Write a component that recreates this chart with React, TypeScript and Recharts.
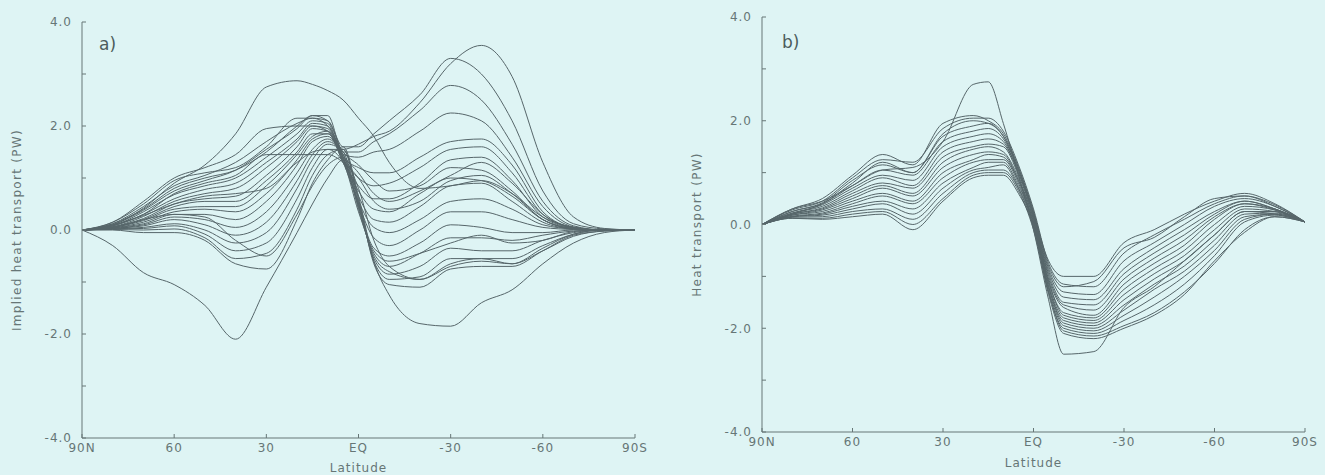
import { LineChart, Line, XAxis, YAxis } from "recharts";

// latitude grid (degrees, north positive)
const lats = [90, 80, 70, 60, 50, 40, 30, 20, 15, 10, 5, 0, -5, -10, -20, -30, -40, -50, -60, -70, -80, -90];

const xTicks = [90, 60, 30, 0, -30, -60, -90];
const xTickLabels = ["90N", "60", "30", "EQ", "-30", "-60", "90S"];
const yTicks = [-4, -3, -2, -1, 0, 1, 2, 3, 4];
const yTickLabels = ["-4.0", "", "-2.0", "", "0.0", "", "2.0", "", "4.0"];

// panel a) implied heat transport, one array per model
const a01 = [0, 0.1, 0.42, 0.9, 1.25, 1.85, 2.75, 2.87, 2.8, 2.68, 2.5, 2.15, 1.8, 1.3, 0.8, 0.85, 0.95, 0.7, 0.25, 0.05, 0, 0];
const a02 = [0, -0.3, -0.82, -1.05, -1.45, -2.1, -1.1, -0.05, 0.5, 1.0, 1.35, 0.8, -0.2, -0.7, -0.95, -0.7, -0.6, -0.65, -0.4, -0.12, -0.02, 0];
const a03 = [0, 0.15, 0.55, 1.0, 1.2, 1.45, 1.95, 2.0, 2.0, 1.9, 1.55, 1.65, 1.8, 1.9, 2.45, 3.2, 3.55, 2.95, 1.3, 0.25, 0.03, 0];
const a04 = [0, 0.12, 0.45, 0.85, 1.05, 1.3, 1.7, 2.05, 2.15, 2.1, 1.6, 1.6, 1.85, 2.1, 2.6, 3.3, 3.0, 2.1, 0.75, 0.12, 0.02, 0];
const a05 = [0, 0.1, 0.38, 0.75, 0.95, 1.15, 1.55, 1.95, 2.2, 2.2, 1.5, 1.5, 1.7, 1.85, 2.3, 2.78, 2.5, 1.65, 0.55, 0.08, 0, 0];
const a06 = [0, 0.08, 0.35, 0.68, 0.85, 1.0, 1.4, 1.85, 2.1, 2.05, 1.45, 1.4, 1.5, 1.55, 1.9, 2.25, 2.1, 1.4, 0.45, 0.06, 0, 0];
const a07 = [0, 0.08, 0.3, 0.6, 0.78, 0.9, 1.3, 1.75, 2.05, 2.0, 1.4, 1.2, 1.1, 1.1, 1.4, 1.7, 1.75, 1.25, 0.35, 0.05, 0, 0];
const a08 = [0, 0.06, 0.26, 0.55, 0.7, 0.8, 1.2, 1.7, 2.0, 1.95, 1.35, 1.0, 0.85, 0.9, 1.2, 1.55, 1.6, 1.1, 0.3, 0.05, 0, 0];
const a09 = [0, 0.06, 0.22, 0.5, 0.6, 0.65, 1.05, 1.6, 1.95, 1.9, 1.3, 0.85, 0.6, 0.6, 0.9, 1.35, 1.4, 0.95, 0.25, 0.04, 0, 0];
const a10 = [0, 0.05, 0.2, 0.45, 0.55, 0.55, 0.95, 1.5, 1.85, 1.85, 1.35, 0.75, 0.4, 0.35, 0.7, 1.0, 0.95, 0.65, 0.2, 0.03, 0, 0];
const a11 = [0, 0.05, 0.18, 0.4, 0.45, 0.45, 0.85, 1.45, 1.8, 1.9, 1.4, 0.65, 0.2, 0.15, 0.45, 0.85, 0.9, 0.55, 0.15, 0.02, 0, 0];
const a12 = [0, 0.04, 0.15, 0.35, 0.4, 0.35, 0.7, 1.35, 1.75, 1.85, 1.3, 0.55, 0.05, -0.05, 0.2, 0.55, 0.6, 0.4, 0.1, 0.02, 0, 0];
const a13 = [0, 0.04, 0.12, 0.3, 0.3, 0.2, 0.55, 1.25, 1.7, 1.8, 1.35, 0.5, -0.15, -0.3, 0.0, 0.35, 0.35, 0.2, 0.05, 0.01, 0, 0];
const a14 = [0, 0.03, 0.1, 0.25, 0.2, 0.05, 0.35, 1.1, 1.55, 1.75, 1.4, 0.45, -0.35, -0.5, -0.25, 0.1, 0.05, -0.05, -0.05, 0, 0, 0];
const a15 = [0, 0.03, 0.08, 0.2, 0.1, -0.1, 0.15, 0.95, 1.45, 1.7, 1.45, 0.4, -0.45, -0.7, -0.45, -0.15, -0.15, -0.2, -0.1, -0.02, 0, 0];
const a16 = [0, 0.02, 0.05, 0.12, 0.0, -0.25, -0.05, 0.8, 1.35, 1.65, 1.5, 0.5, -0.55, -0.85, -0.7, -0.35, -0.4, -0.4, -0.2, -0.05, 0, 0];
const a17 = [0, 0.02, 0.03, 0.08, -0.08, -0.4, -0.25, 0.6, 1.2, 1.55, 1.55, 0.55, -0.6, -0.95, -0.9, -0.55, -0.55, -0.55, -0.3, -0.08, 0, 0];
const a18 = [0, 0.01, 0.0, 0.02, -0.15, -0.55, -0.45, 0.4, 1.05, 1.45, 1.55, 0.6, -0.65, -1.05, -1.1, -0.75, -0.7, -0.7, -0.4, -0.1, -0.02, 0];
const a19 = [0, 0.0, -0.05, -0.05, -0.2, -0.65, -0.75, 0.2, 0.9, 1.35, 1.6, 0.65, -0.6, -1.25, -1.8, -1.85, -1.4, -1.15, -0.65, -0.25, -0.05, 0];
const a20 = [0, 0.15, 0.5, 0.95, 1.1, 1.2, 1.6, 2.15, 2.15, 2.0, 1.5, 1.25, 0.95, 0.75, 0.85, 1.2, 1.15, 0.75, 0.2, 0.03, 0, 0];
const a21 = [0, 0.1, 0.3, 0.7, 0.9, 1.05, 1.45, 1.45, 1.45, 1.45, 1.3, 1.0, 0.55, 0.4, 0.55, 0.95, 1.05, 0.7, 0.2, 0.02, 0, 0];
const a22 = [0, 0.05, 0.2, 0.3, 0.25, -0.2, -0.5, 0.3, 0.85, 1.25, 1.4, 0.45, -0.5, -0.8, -0.95, -0.65, -0.55, -0.65, -0.35, -0.08, 0, 0];
const a23 = [0, 0.08, 0.28, 0.5, 0.65, 0.7, 0.8, 1.3, 1.5, 1.55, 1.3, 0.35, -0.4, -0.6, -0.45, -0.25, -0.1, -0.25, -0.2, -0.03, 0, 0];
const a24 = [0, 0.12, 0.4, 0.8, 1.0, 1.15, 1.5, 2.0, 2.2, 2.1, 1.45, 1.1, 0.7, 0.55, 0.75, 1.05, 1.3, 0.9, 0.3, 0.04, 0, 0];

// panel b) heat transport
const b01 = [0, 0.3, 0.45, 0.75, 1.05, 1.1, 1.6, 2.7, 2.75, 1.95, 0.95, -0.1, -1.45, -2.5, -2.45, -1.6, -1.2, -0.7, -0.2, 0.25, 0.2, 0.05];
const b02 = [0, 0.3, 0.5, 0.95, 1.35, 1.15, 1.95, 2.1, 2.0, 1.75, 1.1, 0.2, -0.7, -1.0, -1.0, -0.35, -0.1, 0.2, 0.45, 0.6, 0.4, 0.05];
const b03 = [0, 0.28, 0.45, 0.9, 1.25, 1.2, 1.85, 2.05, 2.05, 1.8, 1.15, 0.3, -0.75, -1.15, -1.2, -0.55, -0.2, 0.1, 0.4, 0.55, 0.35, 0.05];
const b04 = [0, 0.25, 0.42, 0.85, 1.15, 1.0, 1.7, 1.9, 1.95, 1.7, 1.1, 0.25, -0.85, -1.3, -1.35, -0.7, -0.35, 0.0, 0.35, 0.5, 0.35, 0.05];
const b05 = [0, 0.25, 0.4, 0.75, 1.05, 0.95, 1.6, 1.8, 1.85, 1.65, 1.05, 0.2, -0.9, -1.4, -1.45, -0.85, -0.45, -0.1, 0.25, 0.45, 0.3, 0.05];
const b06 = [0, 0.22, 0.38, 0.7, 0.95, 0.85, 1.5, 1.7, 1.75, 1.6, 1.0, 0.15, -0.95, -1.5, -1.55, -0.95, -0.55, -0.2, 0.2, 0.45, 0.3, 0.05];
const b07 = [0, 0.22, 0.35, 0.65, 0.9, 0.75, 1.4, 1.6, 1.65, 1.55, 1.0, 0.2, -1.0, -1.55, -1.65, -1.05, -0.65, -0.3, 0.15, 0.4, 0.3, 0.05];
const b08 = [0, 0.2, 0.32, 0.6, 0.8, 0.7, 1.3, 1.5, 1.55, 1.5, 0.95, 0.15, -1.05, -1.6, -1.75, -1.15, -0.75, -0.4, 0.1, 0.4, 0.28, 0.05];
const b09 = [0, 0.2, 0.3, 0.55, 0.75, 0.6, 1.2, 1.45, 1.5, 1.4, 0.9, 0.1, -1.1, -1.7, -1.8, -1.25, -0.85, -0.5, 0.0, 0.35, 0.28, 0.05];
const b10 = [0, 0.18, 0.28, 0.5, 0.7, 0.55, 1.1, 1.35, 1.4, 1.35, 0.85, 0.05, -1.1, -1.75, -1.85, -1.35, -0.95, -0.6, -0.1, 0.3, 0.25, 0.05];
const b11 = [0, 0.18, 0.25, 0.45, 0.6, 0.45, 1.0, 1.25, 1.35, 1.3, 0.85, 0.1, -1.15, -1.8, -1.9, -1.45, -1.05, -0.7, -0.2, 0.25, 0.25, 0.05];
const b12 = [0, 0.16, 0.22, 0.4, 0.55, 0.4, 0.9, 1.2, 1.25, 1.25, 0.8, 0.0, -1.2, -1.85, -1.95, -1.55, -1.15, -0.8, -0.3, 0.2, 0.22, 0.05];
const b13 = [0, 0.15, 0.2, 0.35, 0.45, 0.3, 0.8, 1.1, 1.2, 1.2, 0.75, 0.05, -1.2, -1.9, -2.0, -1.65, -1.25, -0.9, -0.4, 0.15, 0.2, 0.05];
const b14 = [0, 0.15, 0.18, 0.3, 0.4, 0.2, 0.7, 1.05, 1.1, 1.15, 0.7, -0.05, -1.25, -1.95, -2.05, -1.75, -1.4, -1.0, -0.5, 0.1, 0.2, 0.05];
const b15 = [0, 0.14, 0.15, 0.25, 0.3, 0.1, 0.6, 1.0, 1.05, 1.05, 0.7, 0.0, -1.3, -2.0, -2.1, -1.85, -1.55, -1.15, -0.6, 0.05, 0.18, 0.05];
const b16 = [0, 0.12, 0.12, 0.2, 0.25, 0.0, 0.5, 0.95, 1.0, 1.0, 0.65, -0.1, -1.3, -2.05, -2.15, -1.95, -1.7, -1.3, -0.75, -0.1, 0.15, 0.05];
const b17 = [0, 0.12, 0.1, 0.15, 0.2, -0.1, 0.45, 0.9, 0.95, 0.95, 0.6, -0.05, -1.35, -2.1, -2.2, -2.0, -1.75, -1.35, -0.7, -0.15, 0.15, 0.05];
const b18 = [0, 0.2, 0.4, 0.8, 1.2, 1.0, 1.75, 2.0, 1.95, 1.7, 1.05, 0.25, -0.8, -1.2, -1.1, -0.45, -0.25, 0.15, 0.5, 0.55, 0.38, 0.05];

const seriesA = [a01, a02, a03, a04, a05, a06, a07, a08, a09, a10, a11, a12, a13, a14, a15, a16, a17, a18, a19, a20, a21, a22, a23, a24];
const seriesB = [b01, b02, b03, b04, b05, b06, b07, b08, b09, b10, b11, b12, b13, b14, b15, b16, b17, b18];

const BG = "#def4f4";
const INK = "#56666a";
const AXIS = "#667676";
const FONT = "'DejaVu Sans', 'Liberation Sans', sans-serif";

function buildRows(series: number[][]) {
  return lats.map((lat, i) => {
    const row: Record<string, number> = { lat };
    series.forEach((s, k) => {
      row["m" + k] = s[i];
    });
    return row;
  });
}

const tickStyle = { fontSize: 12, fill: AXIS, fontFamily: FONT, letterSpacing: 1 };

function Panel(props: {
  series: number[][];
  width: number;
  margin: { top: number; right: number; bottom: number; left: number };
  yAxisWidth: number;
  xAxisHeight: number;
  yLabel: string;
  yLabelOffset: number;
  xLabelOffset: number;
}) {
  const data = buildRows(props.series);
  return (
    <LineChart width={props.width} height={475} data={data} margin={props.margin}>
      <XAxis
        dataKey="lat"
        type="number"
        domain={[-90, 90]}
        reversed
        ticks={xTicks}
        interval={0}
        height={props.xAxisHeight}
        tickFormatter={(v: number) => xTickLabels[xTicks.indexOf(v)]}
        tick={tickStyle}
        tickSize={-4}
        tickMargin={9}
        stroke={AXIS}
        label={{
          value: "Latitude",
          position: "insideBottom",
          offset: props.xLabelOffset,
          style: { fontSize: 12, fill: AXIS, fontFamily: FONT, letterSpacing: 1 },
        }}
      />
      <XAxis
        xAxisId="top"
        orientation="top"
        dataKey="lat"
        type="number"
        domain={[-90, 90]}
        reversed
        ticks={xTicks}
        height={0}
        tick={false}
        tickSize={-4}
        stroke={AXIS}
      />
      <YAxis
        type="number"
        domain={[-4, 4]}
        ticks={yTicks}
        interval={0}
        width={props.yAxisWidth}
        tickFormatter={(v: number) => yTickLabels[yTicks.indexOf(v)]}
        tick={tickStyle}
        tickSize={-4}
        tickMargin={14}
        stroke={AXIS}
        label={{
          value: props.yLabel,
          angle: -90,
          position: "insideLeft",
          offset: props.yLabelOffset,
          style: { textAnchor: "middle", fontSize: 12, fill: AXIS, fontFamily: FONT, letterSpacing: 1.3 },
        }}
      />
      <YAxis
        yAxisId="right"
        orientation="right"
        type="number"
        domain={[-4, 4]}
        ticks={yTicks}
        width={0}
        tick={false}
        tickSize={-4}
        stroke={AXIS}
      />
      {props.series.map((_, k) => (
        <Line
          key={k}
          type="monotone"
          dataKey={"m" + k}
          stroke={INK}
          strokeWidth={1}
          dot={false}
          isAnimationActive={false}
        />
      ))}
    </LineChart>
  );
}

const tagStyle = {
  position: "absolute" as const,
  fontSize: 17,
  color: "#4c5c5c",
  fontFamily: FONT,
};

export default function App() {
  return (
    <div style={{ position: "absolute", left: 0, top: 0, width: 1325, height: 475, background: BG, overflow: "hidden" }}>
      <div style={{ position: "absolute", left: 0, top: 0 }}>
        <Panel
          series={seriesA}
          width={660}
          margin={{ top: 22, right: 25, bottom: 0, left: 0 }}
          yAxisWidth={82}
          xAxisHeight={37}
          yLabel="Implied heat transport (PW)"
          yLabelOffset={17}
          xLabelOffset={3}
        />
      </div>
      <div style={{ position: "absolute", left: 660, top: 0 }}>
        <Panel
          series={seriesB}
          width={665}
          margin={{ top: 17, right: 20, bottom: 0, left: 0 }}
          yAxisWidth={102}
          xAxisHeight={43}
          yLabel="Heat transport (PW)"
          yLabelOffset={37}
          xLabelOffset={8}
        />
      </div>
      <div style={{ ...tagStyle, left: 99, top: 34 }}>a)</div>
      <div style={{ ...tagStyle, left: 782, top: 32 }}>b)</div>
    </div>
  );
}
